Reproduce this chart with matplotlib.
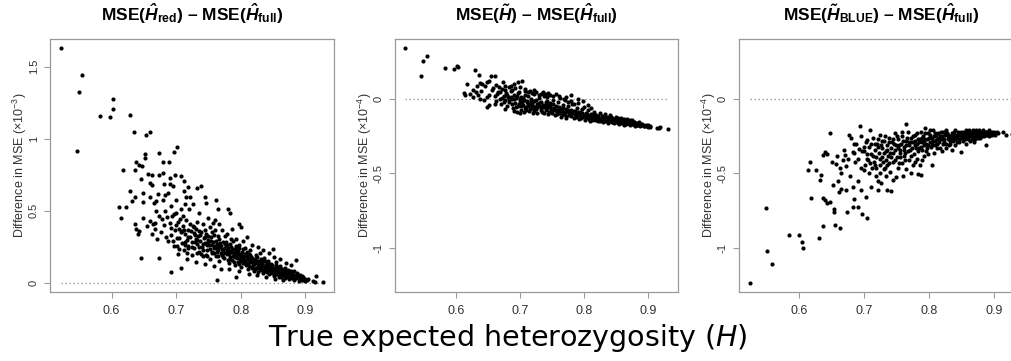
import numpy as np
import matplotlib
matplotlib.use('Agg')
import matplotlib.pyplot as plt

# MSE(H_red) - MSE(H_full), units of 1e-3
red_pts = [
    (0.521, 1.626), (0.549, 1.320), (0.555, 1.444), (0.546, 0.917), (0.582, 1.155), (0.598, 1.153),
    (0.603, 1.276), (0.603, 1.208), (0.628, 1.162), (0.635, 1.046), (0.654, 1.028), (0.659, 1.046),
    (0.702, 0.942), (0.696, 0.905), (0.673, 0.898), (0.651, 0.896), (0.651, 0.866), (0.680, 0.840),
    (0.689, 0.840), (0.638, 0.834), (0.642, 0.817), (0.647, 0.810), (0.617, 0.783), (0.636, 0.780),
    (0.680, 0.759), (0.657, 0.752), (0.663, 0.750), (0.673, 0.746), (0.698, 0.746), (0.707, 0.741),
    (0.690, 0.725), (0.645, 0.722), (0.712, 0.706), (0.659, 0.690), (0.681, 0.688), (0.691, 0.683),
    (0.663, 0.678), (0.695, 0.671), (0.718, 0.667), (0.732, 0.660), (0.739, 0.671), (0.628, 0.637),
    (0.649, 0.621), (0.672, 0.618), (0.687, 0.625), (0.712, 0.637), (0.637, 0.597), (0.659, 0.595),
    (0.683, 0.609), (0.679, 0.572), (0.669, 0.567), (0.700, 0.572), (0.715, 0.595), (0.721, 0.595),
    (0.744, 0.595), (0.762, 0.574), (0.631, 0.567), (0.649, 0.560), (0.666, 0.556), (0.713, 0.544),
    (0.726, 0.544), (0.746, 0.556), (0.611, 0.528), (0.623, 0.526), (0.692, 0.533), (0.669, 0.498),
    (0.682, 0.498), (0.708, 0.509), (0.720, 0.509), (0.765, 0.509), (0.780, 0.509), (0.783, 0.486),
    (0.700, 0.486), (0.674, 0.463), (0.697, 0.475), (0.711, 0.463), (0.736, 0.486), (0.749, 0.452),
    (0.760, 0.435), (0.615, 0.447), (0.649, 0.447), (0.659, 0.428), (0.636, 0.405), (0.668, 0.417),
    (0.690, 0.417), (0.767, 0.405), (0.798, 0.405), (0.801, 0.387), (0.638, 0.371), (0.642, 0.359),
    (0.641, 0.341), (0.667, 0.371), (0.692, 0.382), (0.646, 0.169), (0.674, 0.174), (0.692, 0.074),
    (0.708, 0.104), (0.763, 0.016), (0.793, 0.040), (0.850, 0.236), (0.886, 0.158), (0.916, 0.046),
    (0.915, 0.004), (0.928, 0.002), (0.912, 0.012),
    (0.655, 0.392), (0.662, 0.335), (0.670, 0.305), (0.676, 0.352), (0.681, 0.398), (0.684, 0.318),
    (0.688, 0.290), (0.678, 0.442), (0.664, 0.410), (0.686, 0.454), (0.693, 0.462),
    (0.692, 0.332), (0.695, 0.291), (0.698, 0.365), (0.701, 0.254), (0.703, 0.418), (0.705, 0.310),
    (0.707, 0.348), (0.709, 0.276), (0.711, 0.392), (0.712, 0.228), (0.714, 0.335), (0.716, 0.298),
    (0.718, 0.364), (0.719, 0.257), (0.721, 0.410), (0.722, 0.316), (0.724, 0.282), (0.725, 0.193),
    (0.727, 0.347), (0.728, 0.240), (0.730, 0.305), (0.731, 0.372), (0.733, 0.266), (0.734, 0.324),
    (0.736, 0.215), (0.737, 0.291), (0.739, 0.352), (0.740, 0.247), (0.742, 0.183), (0.743, 0.309),
    (0.745, 0.272), (0.746, 0.338), (0.748, 0.229), (0.749, 0.296), (0.751, 0.258), (0.752, 0.165),
    (0.754, 0.317), (0.755, 0.204), (0.757, 0.281), (0.758, 0.240), (0.760, 0.362), (0.761, 0.188),
    (0.763, 0.268), (0.764, 0.227), (0.766, 0.302), (0.767, 0.149), (0.769, 0.251), (0.770, 0.209),
    (0.772, 0.285), (0.773, 0.176), (0.775, 0.238), (0.776, 0.324), (0.778, 0.196), (0.779, 0.262),
    (0.781, 0.133), (0.782, 0.221), (0.784, 0.178), (0.785, 0.247), (0.787, 0.158), (0.788, 0.290),
    (0.790, 0.204), (0.791, 0.121), (0.793, 0.187), (0.794, 0.232), (0.796, 0.146), (0.797, 0.262),
    (0.799, 0.171), (0.800, 0.110), (0.802, 0.210), (0.803, 0.137), (0.805, 0.186), (0.806, 0.243),
    (0.808, 0.123), (0.809, 0.162), (0.811, 0.095), (0.812, 0.198), (0.814, 0.141), (0.815, 0.226),
    (0.817, 0.110), (0.818, 0.170), (0.820, 0.082), (0.821, 0.131), (0.823, 0.190), (0.824, 0.101),
    (0.826, 0.153), (0.827, 0.072), (0.829, 0.118), (0.830, 0.206), (0.832, 0.088), (0.833, 0.139),
    (0.835, 0.064), (0.836, 0.168), (0.838, 0.104), (0.839, 0.121), (0.841, 0.076), (0.842, 0.148),
    (0.844, 0.058), (0.845, 0.094), (0.847, 0.128), (0.848, 0.068), (0.850, 0.104), (0.851, 0.049),
    (0.853, 0.085), (0.854, 0.142), (0.856, 0.060), (0.857, 0.092), (0.859, 0.041), (0.860, 0.118),
    (0.862, 0.071), (0.863, 0.036), (0.865, 0.083), (0.866, 0.053), (0.868, 0.104), (0.869, 0.030),
    (0.871, 0.064), (0.872, 0.044), (0.874, 0.079), (0.875, 0.024), (0.877, 0.052), (0.879, 0.035),
    (0.880, 0.067), (0.882, 0.019), (0.884, 0.041), (0.886, 0.029), (0.888, 0.052), (0.890, 0.014),
    (0.892, 0.032), (0.894, 0.021), (0.897, 0.038), (0.900, 0.011), (0.904, 0.024),
    (0.696, 0.255), (0.704, 0.372), (0.713, 0.262), (0.717, 0.205), (0.723, 0.358), (0.729, 0.329),
    (0.735, 0.248), (0.738, 0.196), (0.744, 0.362), (0.747, 0.187), (0.750, 0.321), (0.753, 0.230),
    (0.756, 0.349), (0.759, 0.206), (0.762, 0.292), (0.765, 0.184), (0.768, 0.274), (0.771, 0.236),
    (0.774, 0.205), (0.777, 0.281), (0.780, 0.156), (0.783, 0.268), (0.786, 0.211), (0.789, 0.140),
    (0.792, 0.251), (0.795, 0.197), (0.798, 0.128), (0.801, 0.183), (0.804, 0.231), (0.807, 0.152),
    (0.810, 0.210), (0.813, 0.117), (0.816, 0.180), (0.819, 0.146), (0.822, 0.098), (0.825, 0.176),
    (0.828, 0.128), (0.831, 0.097), (0.834, 0.150), (0.837, 0.083), (0.840, 0.134), (0.843, 0.106),
    (0.846, 0.078), (0.849, 0.122), (0.852, 0.067), (0.855, 0.108), (0.858, 0.077), (0.861, 0.054),
    (0.864, 0.096), (0.867, 0.068), (0.870, 0.043), (0.873, 0.091), (0.876, 0.062), (0.879, 0.046),
    (0.883, 0.082), (0.887, 0.040), (0.891, 0.055), (0.895, 0.045), (0.898, 0.018),
    (0.700, 0.401), (0.706, 0.445), (0.715, 0.432), (0.726, 0.395), (0.732, 0.423), (0.741, 0.404),
    (0.752, 0.384), (0.757, 0.412), (0.771, 0.362), (0.779, 0.340), (0.786, 0.372), (0.793, 0.306),
    (0.804, 0.287), (0.810, 0.318), (0.818, 0.262), (0.826, 0.245), (0.834, 0.228), (0.843, 0.207),
    (0.852, 0.180), (0.861, 0.165), (0.870, 0.138), (0.878, 0.120), (0.703, 0.198), (0.716, 0.164),
    (0.730, 0.141), (0.744, 0.128), (0.758, 0.118), (0.769, 0.098), (0.781, 0.092), (0.797, 0.083),
    (0.812, 0.062), (0.825, 0.052), (0.839, 0.040), (0.853, 0.028), (0.866, 0.018),
    (0.701, 0.312), (0.704, 0.236), (0.709, 0.358), (0.714, 0.281), (0.719, 0.318), (0.724, 0.247),
    (0.728, 0.385), (0.732, 0.203), (0.737, 0.330), (0.741, 0.266), (0.746, 0.195), (0.750, 0.283),
    (0.755, 0.262), (0.759, 0.329), (0.763, 0.214), (0.767, 0.246), (0.771, 0.191), (0.775, 0.268),
    (0.779, 0.218), (0.783, 0.162), (0.787, 0.236), (0.791, 0.175), (0.795, 0.220), (0.799, 0.151),
    (0.803, 0.162), (0.807, 0.198), (0.811, 0.136), (0.815, 0.158), (0.819, 0.121), (0.823, 0.145),
    (0.827, 0.102), (0.831, 0.162), (0.835, 0.118), (0.839, 0.090), (0.843, 0.127), (0.847, 0.097),
    (0.851, 0.070), (0.855, 0.122), (0.859, 0.086), (0.863, 0.061), (0.867, 0.087), (0.871, 0.052),
    (0.875, 0.071), (0.879, 0.058), (0.883, 0.034), (0.887, 0.064), (0.891, 0.026), (0.895, 0.030),
    (0.899, 0.027), (0.903, 0.016),
    (0.712, 0.365), (0.718, 0.240), (0.729, 0.280), (0.735, 0.355), (0.745, 0.315), (0.754, 0.290),
    (0.760, 0.252), (0.765, 0.327), (0.772, 0.224), (0.777, 0.250), (0.781, 0.198), (0.785, 0.301),
    (0.790, 0.232), (0.794, 0.168), (0.798, 0.242), (0.802, 0.167), (0.806, 0.133), (0.810, 0.174),
    (0.814, 0.193), (0.818, 0.105), (0.822, 0.166), (0.826, 0.118), (0.830, 0.142), (0.834, 0.087),
    (0.838, 0.148), (0.842, 0.088), (0.846, 0.113), (0.850, 0.088), (0.854, 0.063), (0.858, 0.104),
    (0.862, 0.093), (0.866, 0.073), (0.870, 0.081), (0.874, 0.033), (0.878, 0.084), (0.882, 0.052),
    (0.886, 0.046), (0.890, 0.038),
    (0.733, 0.299), (0.742, 0.227), (0.747, 0.262), (0.756, 0.215), (0.761, 0.239), (0.766, 0.263),
    (0.774, 0.172), (0.780, 0.237), (0.784, 0.210), (0.788, 0.185), (0.792, 0.216), (0.796, 0.176),
    (0.800, 0.198), (0.805, 0.150), (0.809, 0.185), (0.813, 0.163), (0.817, 0.141), (0.821, 0.157),
    (0.825, 0.136), (0.829, 0.095), (0.833, 0.121), (0.837, 0.112), (0.841, 0.099), (0.845, 0.120),
    (0.849, 0.080), (0.853, 0.096), (0.857, 0.111), (0.861, 0.075), (0.865, 0.060), (0.869, 0.057),
    (0.873, 0.060), (0.877, 0.041),
]

# MSE(H~) - MSE(H_full), units of 1e-4
tilde_pts = [
    (0.521, 0.342), (0.549, 0.260), (0.555, 0.289), (0.546, 0.159), (0.582, 0.211), (0.597, 0.204),
    (0.602, 0.226), (0.603, 0.215), (0.629, 0.199), (0.636, 0.166), (0.654, 0.159), (0.660, 0.159),
    (0.617, 0.103), (0.638, 0.110), (0.641, 0.103), (0.648, 0.114), (0.652, 0.121), (0.645, 0.092),
    (0.633, 0.092), (0.612, 0.041), (0.614, 0.025), (0.622, 0.036), (0.627, 0.059), (0.631, 0.047),
    (0.637, 0.003), (0.643, -0.004), (0.648, 0.014), (0.656, 0.059), (0.658, 0.076), (0.664, 0.036),
    (0.669, 0.047), (0.673, 0.114), (0.677, 0.092), (0.682, 0.081), (0.690, 0.103), (0.697, 0.114),
    (0.703, 0.121), (0.648, -0.053), (0.695, -0.087), (0.709, -0.076), (0.677, -0.064),
    (0.626, 0.012), (0.634, 0.028), (0.651, 0.030), (0.639, 0.052),
    (0.661, 0.021), (0.663, -0.012), (0.666, 0.048), (0.668, 0.004), (0.670, -0.031), (0.672, 0.067),
    (0.674, 0.018), (0.676, -0.008), (0.678, 0.039), (0.680, -0.045), (0.681, 0.012), (0.683, -0.019),
    (0.685, 0.054), (0.687, -0.002), (0.689, -0.061), (0.690, 0.027), (0.692, -0.028), (0.694, 0.008),
    (0.696, -0.044), (0.697, 0.041), (0.699, -0.015), (0.701, -0.070), (0.702, 0.016), (0.704, -0.036),
    (0.706, -0.005), (0.707, 0.052), (0.709, -0.052), (0.711, -0.021), (0.712, 0.023), (0.714, -0.078),
    (0.716, -0.038), (0.717, 0.001), (0.719, -0.057), (0.721, -0.012), (0.722, 0.034), (0.724, -0.069),
    (0.726, -0.031), (0.727, -0.091), (0.729, 0.008), (0.731, -0.047), (0.732, -0.018), (0.734, -0.084),
    (0.736, -0.056), (0.737, 0.021), (0.739, -0.036), (0.741, -0.072), (0.742, -0.010), (0.744, -0.098),
    (0.746, -0.052), (0.747, -0.027), (0.749, -0.081), (0.751, -0.064), (0.752, -0.004), (0.754, -0.105),
    (0.756, -0.045), (0.757, -0.074), (0.759, -0.022), (0.761, -0.093), (0.762, -0.058), (0.764, -0.118),
    (0.766, -0.082), (0.767, -0.036), (0.769, -0.101), (0.771, -0.066), (0.772, -0.124), (0.774, -0.049),
    (0.776, -0.088), (0.777, -0.108), (0.779, -0.072), (0.781, -0.031), (0.782, -0.095), (0.784, -0.128),
    (0.786, -0.080), (0.787, -0.112), (0.789, -0.058), (0.791, -0.099), (0.792, -0.134), (0.794, -0.085),
    (0.796, -0.117), (0.797, -0.067), (0.799, -0.104), (0.801, -0.140), (0.802, -0.091), (0.804, -0.123),
    (0.806, -0.076), (0.807, -0.110), (0.809, -0.144), (0.811, -0.097), (0.812, -0.128), (0.814, -0.113),
    (0.816, -0.083), (0.817, -0.137), (0.819, -0.104), (0.821, -0.150), (0.822, -0.120), (0.824, -0.094),
    (0.826, -0.134), (0.827, -0.112), (0.829, -0.153), (0.831, -0.127), (0.832, -0.101), (0.834, -0.141),
    (0.836, -0.118), (0.837, -0.158), (0.839, -0.133), (0.841, -0.109), (0.842, -0.147), (0.844, -0.125),
    (0.846, -0.162), (0.847, -0.139), (0.849, -0.118), (0.851, -0.152), (0.852, -0.132), (0.854, -0.167),
    (0.856, -0.145), (0.857, -0.126), (0.859, -0.158), (0.861, -0.139), (0.862, -0.171), (0.864, -0.151),
    (0.866, -0.133), (0.867, -0.163), (0.869, -0.146), (0.871, -0.175), (0.872, -0.157), (0.874, -0.140),
    (0.876, -0.168), (0.877, -0.152), (0.879, -0.178), (0.881, -0.162), (0.883, -0.171), (0.885, -0.156),
    (0.887, -0.180), (0.889, -0.167), (0.891, -0.175), (0.894, -0.183), (0.897, -0.172), (0.900, -0.186),
    (0.903, -0.181), (0.914, -0.193), (0.919, -0.188), (0.917, -0.197), (0.930, -0.203),
    (0.703, -0.022), (0.708, 0.031), (0.713, -0.044), (0.718, -0.025), (0.723, -0.050), (0.728, -0.040),
    (0.733, -0.062), (0.738, -0.051), (0.743, -0.040), (0.748, -0.070), (0.753, -0.058), (0.758, -0.085),
    (0.763, -0.072), (0.768, -0.090), (0.773, -0.079), (0.778, -0.098), (0.783, -0.085), (0.788, -0.106),
    (0.793, -0.095), (0.798, -0.115), (0.803, -0.106), (0.808, -0.121), (0.813, -0.131), (0.818, -0.120),
    (0.823, -0.139), (0.828, -0.128), (0.833, -0.146), (0.838, -0.137), (0.843, -0.154), (0.848, -0.145),
    (0.853, -0.160), (0.858, -0.151), (0.863, -0.164), (0.868, -0.158), (0.873, -0.167), (0.878, -0.163),
    (0.882, -0.176), (0.888, -0.172),
    (0.716, 0.058), (0.724, 0.047), (0.733, 0.038), (0.741, 0.028), (0.752, 0.018), (0.762, 0.006),
    (0.770, -0.005), (0.779, -0.014), (0.790, -0.026), (0.800, -0.050), (0.810, -0.060), (0.744, 0.040),
    (0.756, 0.034), (0.722, 0.062), (0.739, 0.036), (0.742, 0.014), (0.768, 0.000), (0.775, -0.020),
    (0.784, -0.030),
    (0.671, 0.010), (0.675, -0.020), (0.679, 0.025), (0.682, -0.005), (0.686, 0.015), (0.688, -0.035),
    (0.691, 0.003), (0.693, -0.050), (0.695, 0.020), (0.698, -0.030), (0.700, 0.000), (0.702, -0.048),
    (0.705, 0.010), (0.707, -0.060), (0.710, -0.010), (0.712, -0.032), (0.715, -0.065), (0.717, -0.015),
    (0.720, -0.045), (0.722, -0.080), (0.725, -0.008), (0.727, -0.055), (0.730, -0.028), (0.732, -0.075),
    (0.735, -0.040), (0.737, -0.090), (0.740, -0.020), (0.742, -0.060), (0.745, -0.083), (0.747, -0.045),
    (0.750, -0.095), (0.752, -0.035), (0.755, -0.070), (0.757, -0.100), (0.760, -0.050), (0.762, -0.080),
    (0.765, -0.105), (0.767, -0.062), (0.770, -0.088), (0.772, -0.110), (0.775, -0.070), (0.777, -0.092),
    (0.780, -0.115), (0.782, -0.078), (0.785, -0.100), (0.787, -0.122), (0.790, -0.088), (0.792, -0.108),
    (0.795, -0.128), (0.797, -0.095), (0.800, -0.115), (0.802, -0.130), (0.805, -0.100), (0.807, -0.134),
    (0.810, -0.115), (0.812, -0.140), (0.815, -0.103), (0.817, -0.124), (0.820, -0.138), (0.822, -0.110),
    (0.825, -0.146), (0.827, -0.125), (0.830, -0.140), (0.832, -0.117), (0.835, -0.150), (0.837, -0.130),
    (0.840, -0.144), (0.842, -0.122), (0.845, -0.156), (0.847, -0.134), (0.850, -0.146), (0.852, -0.127),
    (0.855, -0.160), (0.857, -0.140), (0.860, -0.150), (0.862, -0.135), (0.865, -0.165), (0.867, -0.148),
    (0.870, -0.158), (0.872, -0.143), (0.875, -0.170), (0.877, -0.156), (0.880, -0.166), (0.884, -0.160),
    (0.886, -0.174), (0.890, -0.169), (0.893, -0.178), (0.896, -0.180), (0.899, -0.176), (0.902, -0.190),
    (0.685, 0.090), (0.692, 0.075), (0.700, 0.085), (0.708, 0.070), (0.713, 0.045), (0.688, 0.060),
    (0.663, 0.095), (0.667, 0.080), (0.676, 0.060), (0.698, 0.050), (0.719, 0.040), (0.730, 0.025),
    (0.735, 0.050), (0.747, 0.030), (0.760, 0.020), (0.772, 0.012), (0.780, 0.030), (0.790, 0.000),
    (0.798, -0.015), (0.806, -0.040),
    (0.652, -0.040), (0.660, -0.030), (0.690, -0.080), (0.700, -0.090), (0.720, -0.095), (0.706, -0.085),
]

# MSE(H~_BLUE) - MSE(H_full), units of 1e-4
blue_pts = [
    (0.523, -1.235), (0.548, -0.734), (0.550, -1.024), (0.558, -1.111), (0.584, -0.915), (0.599, -0.917),
    (0.604, -0.960), (0.605, -1.004), (0.630, -0.935), (0.637, -0.854), (0.655, -0.849), (0.662, -0.865),
    (0.648, -0.228), (0.694, -0.179), (0.677, -0.239), (0.709, -0.206), (0.765, -0.165), (0.794, -0.194),
    (0.616, -0.423), (0.613, -0.479), (0.625, -0.479), (0.633, -0.512), (0.632, -0.546), (0.640, -0.356),
    (0.643, -0.367), (0.637, -0.378), (0.651, -0.423), (0.656, -0.434), (0.669, -0.344), (0.670, -0.378),
    (0.682, -0.356), (0.684, -0.300), (0.692, -0.333), (0.700, -0.322), (0.705, -0.277), (0.716, -0.300),
    (0.618, -0.662), (0.637, -0.664), (0.640, -0.680), (0.648, -0.691), (0.643, -0.702), (0.653, -0.736),
    (0.653, -0.758), (0.674, -0.758), (0.682, -0.725), (0.691, -0.725), (0.697, -0.774), (0.704, -0.803),
    (0.661, -0.624), (0.664, -0.602), (0.672, -0.613), (0.682, -0.590), (0.685, -0.669), (0.695, -0.613),
    (0.703, -0.658), (0.710, -0.590), (0.721, -0.613), (0.726, -0.564), (0.736, -0.613), (0.742, -0.617),
    (0.744, -0.546), (0.749, -0.523), (0.783, -0.501), (0.787, -0.512), (0.804, -0.445), (0.786, -0.445),
    (0.850, -0.356), (0.888, -0.311), (0.915, -0.221), (0.919, -0.244), (0.929, -0.233),
    (0.700, -0.480), (0.712, -0.460), (0.718, -0.520), (0.725, -0.500), (0.730, -0.470), (0.735, -0.440),
    (0.740, -0.490), (0.752, -0.460), (0.758, -0.430), (0.765, -0.470), (0.770, -0.410), (0.775, -0.440),
    (0.690, -0.550), (0.678, -0.520), (0.665, -0.500), (0.660, -0.550), (0.652, -0.580), (0.672, -0.450),
    (0.686, -0.420), (0.705, -0.400), (0.715, -0.420), (0.728, -0.390), (0.695, -0.460), (0.662, -0.460),
    (0.745, -0.420), (0.782, -0.400), (0.762, -0.380), (0.792, -0.380), (0.808, -0.360), (0.820, -0.350),
    (0.835, -0.340),
    (0.700, -0.35), (0.703, -0.29), (0.706, -0.41), (0.708, -0.32), (0.711, -0.37), (0.713, -0.26),
    (0.716, -0.34), (0.718, -0.39), (0.720, -0.30), (0.723, -0.36), (0.725, -0.24), (0.727, -0.33),
    (0.729, -0.42), (0.731, -0.28), (0.733, -0.35), (0.735, -0.31), (0.737, -0.38), (0.739, -0.26),
    (0.741, -0.33), (0.743, -0.29), (0.745, -0.36), (0.747, -0.23), (0.749, -0.31), (0.751, -0.39),
    (0.753, -0.27), (0.755, -0.34), (0.757, -0.30), (0.759, -0.25), (0.761, -0.32), (0.763, -0.36),
    (0.765, -0.28), (0.767, -0.22), (0.769, -0.31), (0.771, -0.34), (0.773, -0.26), (0.775, -0.29),
    (0.777, -0.37), (0.779, -0.24), (0.781, -0.30), (0.783, -0.27), (0.785, -0.33), (0.787, -0.22),
    (0.789, -0.29), (0.791, -0.25), (0.793, -0.31), (0.795, -0.35), (0.797, -0.27), (0.799, -0.23),
    (0.801, -0.29), (0.803, -0.32), (0.805, -0.26), (0.807, -0.21), (0.809, -0.28), (0.811, -0.24),
    (0.813, -0.30), (0.815, -0.26), (0.817, -0.33), (0.819, -0.22), (0.821, -0.27), (0.823, -0.29),
    (0.825, -0.24), (0.827, -0.21), (0.829, -0.27), (0.831, -0.31), (0.833, -0.25), (0.835, -0.23),
    (0.837, -0.28), (0.839, -0.26), (0.841, -0.21), (0.843, -0.29), (0.845, -0.24), (0.847, -0.27),
    (0.849, -0.22), (0.851, -0.25), (0.853, -0.28), (0.855, -0.23), (0.857, -0.21), (0.859, -0.26),
    (0.861, -0.24), (0.863, -0.28), (0.865, -0.22), (0.867, -0.25), (0.869, -0.23), (0.871, -0.27),
    (0.873, -0.21), (0.875, -0.24), (0.877, -0.22), (0.879, -0.26), (0.881, -0.23), (0.883, -0.21),
    (0.885, -0.25), (0.887, -0.22), (0.889, -0.24), (0.892, -0.21), (0.895, -0.23), (0.898, -0.22),
    (0.902, -0.24), (0.905, -0.22),
    (0.702, -0.44), (0.710, -0.30), (0.717, -0.44), (0.722, -0.32), (0.728, -0.28), (0.734, -0.41),
    (0.740, -0.36), (0.746, -0.30), (0.752, -0.33), (0.756, -0.39), (0.760, -0.28), (0.764, -0.31),
    (0.768, -0.35), (0.772, -0.29), (0.776, -0.25), (0.780, -0.33), (0.784, -0.29), (0.788, -0.32),
    (0.792, -0.27), (0.796, -0.30), (0.800, -0.26), (0.804, -0.29), (0.808, -0.25), (0.812, -0.27),
    (0.816, -0.29), (0.820, -0.25), (0.824, -0.27), (0.828, -0.23), (0.832, -0.28), (0.836, -0.26),
    (0.840, -0.24), (0.844, -0.26), (0.848, -0.24), (0.852, -0.22), (0.856, -0.27), (0.860, -0.23),
    (0.864, -0.25), (0.868, -0.21), (0.872, -0.23), (0.876, -0.26), (0.880, -0.24), (0.884, -0.23),
    (0.888, -0.22), (0.893, -0.25), (0.897, -0.24),
    (0.680, -0.26), (0.688, -0.30), (0.695, -0.25), (0.685, -0.36), (0.675, -0.40), (0.668, -0.41),
    (0.658, -0.38),
    (0.721, -0.27), (0.724, -0.40), (0.726, -0.31), (0.730, -0.36), (0.732, -0.25), (0.736, -0.34),
    (0.738, -0.29), (0.742, -0.39), (0.744, -0.27), (0.748, -0.34), (0.750, -0.25), (0.754, -0.31),
    (0.756, -0.36), (0.758, -0.22), (0.762, -0.34), (0.766, -0.26), (0.770, -0.29), (0.774, -0.33),
    (0.778, -0.28), (0.782, -0.23), (0.786, -0.27), (0.790, -0.34), (0.794, -0.23), (0.798, -0.31),
    (0.802, -0.24), (0.806, -0.28), (0.810, -0.31), (0.814, -0.23), (0.818, -0.27), (0.822, -0.22),
    (0.826, -0.30), (0.830, -0.24), (0.834, -0.27), (0.838, -0.22), (0.842, -0.25), (0.846, -0.29),
    (0.850, -0.23), (0.854, -0.26), (0.858, -0.24), (0.862, -0.21), (0.866, -0.27), (0.870, -0.25),
    (0.874, -0.23), (0.878, -0.21), (0.882, -0.25), (0.886, -0.24), (0.890, -0.22), (0.894, -0.24),
    (0.900, -0.22), (0.906, -0.23),
    (0.779, -0.31), (0.783, -0.35), (0.789, -0.26), (0.793, -0.28), (0.797, -0.33), (0.801, -0.21),
    (0.805, -0.31), (0.809, -0.23), (0.813, -0.27), (0.817, -0.25), (0.821, -0.30), (0.825, -0.22),
    (0.829, -0.25), (0.833, -0.30), (0.837, -0.24), (0.841, -0.27), (0.845, -0.22), (0.849, -0.26),
    (0.853, -0.24), (0.857, -0.25), (0.861, -0.27), (0.865, -0.24), (0.869, -0.26), (0.873, -0.25),
    (0.877, -0.24), (0.881, -0.22), (0.885, -0.23),
    (0.704, -0.37), (0.709, -0.43), (0.714, -0.38), (0.719, -0.46), (0.724, -0.44), (0.732, -0.46),
    (0.738, -0.43), (0.748, -0.41), (0.754, -0.43), (0.763, -0.41), (0.773, -0.38), (0.778, -0.42),
    (0.790, -0.41), (0.798, -0.37), (0.812, -0.33), (0.826, -0.33), (0.840, -0.31), (0.858, -0.30),
    (0.870, -0.29), (0.690, -0.40), (0.697, -0.35), (0.708, -0.50), (0.721, -0.55), (0.733, -0.52),
    (0.760, -0.52), (0.772, -0.50),
]

titles = [
    r'MSE($\mathbfit{\hat{H}}_{\mathbf{red}}$) – MSE($\mathbfit{\hat{H}}_{\mathbf{full}}$)',
    r'MSE($\mathbfit{\tilde{H}}$) – MSE($\mathbfit{\hat{H}}_{\mathbf{full}}$)',
    r'MSE($\mathbfit{\tilde{H}}_{\mathbf{BLUE}}$) – MSE($\mathbfit{\hat{H}}_{\mathbf{full}}$)',
]
ylabels = [r'Difference in MSE (×10$^{-3}$)', r'Difference in MSE (×10$^{-4}$)',
           r'Difference in MSE (×10$^{-4}$)']
xticks = [0.6, 0.7, 0.8, 0.9]
xticklabels = ['0.6', '0.7', '0.8', '0.9']
yticks_red = [0, 0.5, 1, 1.5]
yticklabels_red = ['0', '0.5', '1', '1.5']
yticks_diff = [0, -0.5, -1]
yticklabels_diff = ['0', '-0.5', '-1']

plt.rcParams['font.family'] = 'Liberation Sans'
plt.rcParams['mathtext.fontset'] = 'custom'
plt.rcParams['mathtext.rm'] = 'Liberation Sans'
plt.rcParams['mathtext.it'] = 'Liberation Sans:italic'
plt.rcParams['mathtext.bf'] = 'Liberation Sans:bold'
plt.rcParams['mathtext.bfit'] = 'Liberation Sans:italic:bold'

W, H = 1011, 361
fig = plt.figure(figsize=(W / 100, H / 100), dpi=100)
ax1 = fig.add_axes([50 / W, 69 / H, 284 / W, 253 / H])
ax2 = fig.add_axes([395 / W, 69 / H, 283 / W, 253 / H])
ax3 = fig.add_axes([739 / W, 69 / H, 284 / W, 253 / H], sharey=ax2)

grey = '#9a9a9a'
panels = [(ax1, red_pts, yticks_red, yticklabels_red),
          (ax2, tilde_pts, yticks_diff, yticklabels_diff),
          (ax3, blue_pts, yticks_diff, yticklabels_diff)]

for i, (ax, pts, yt, ytl) in enumerate(panels):
    x = np.array([p[0] for p in pts])
    y = np.array([p[1] for p in pts])
    ax.hlines(0, x.min(), x.max(), colors='#9a9a9a', linestyles=(0, (1.2, 2.0)), lw=0.9)
    ax.scatter(x, y, s=9, c='black', linewidths=0, zorder=3)
    ax.margins(x=0.04, y=0.04)
    ax.set_xticks(xticks, xticklabels)
    ax.set_yticks(yt, ytl)
    ax.tick_params(axis='both', direction='out', length=4, width=0.8, color=grey,
                   labelcolor='#333333')
    ax.tick_params(axis='x', labelsize=9, pad=5)
    ax.tick_params(axis='y', labelsize=8, pad=4, labelrotation=90)
    for lab in ax.get_yticklabels():
        lab.set_verticalalignment('center')
    for sp in ax.spines.values():
        sp.set_color(grey)
        sp.set_linewidth(0.9)
    ax.set_ylabel(ylabels[i], fontsize=9, color='#333333', labelpad=0)
    ax.set_title(titles[i], fontsize=12.5, fontweight='bold', pad=13)

fig.text(0.502, 0.064, 'True expected heterozygosity ($H$)', fontsize=20.5,
         family='DejaVu Sans', math_fontfamily='dejavusans', ha='center', va='center')

fig.savefig('out.png', dpi=100)
